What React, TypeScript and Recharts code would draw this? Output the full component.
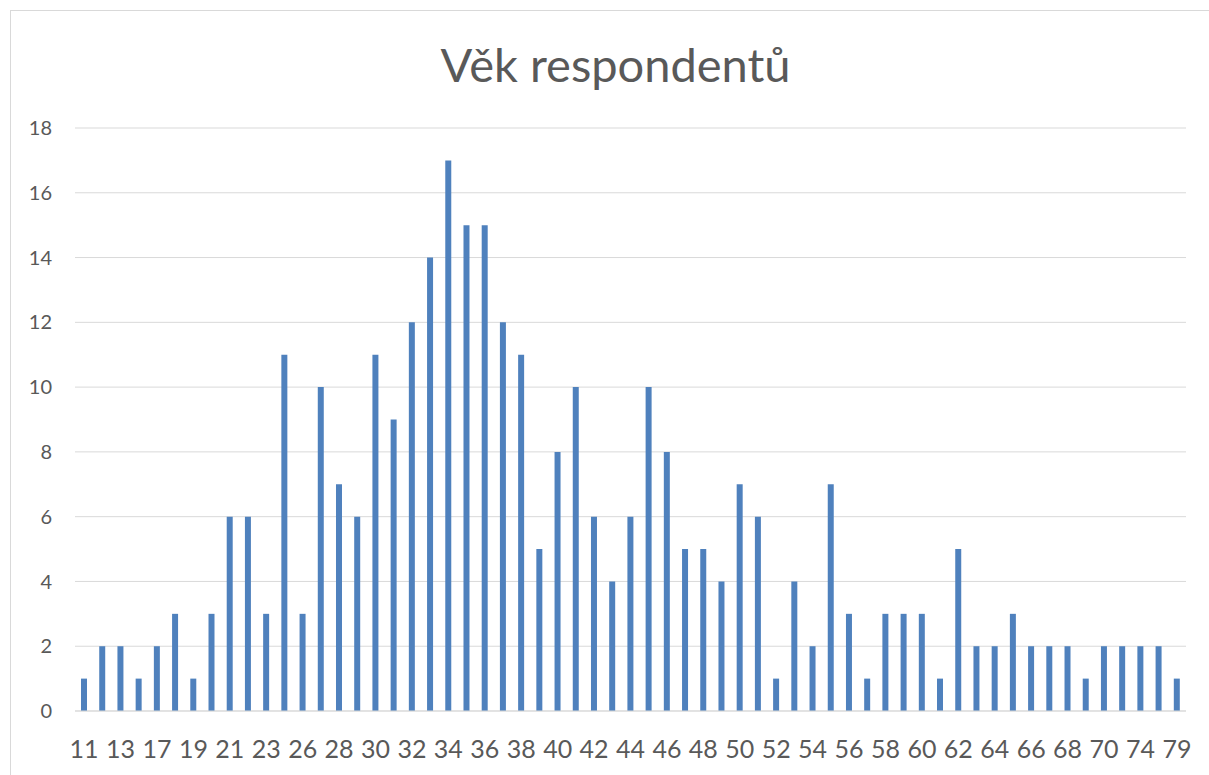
import React from 'react';
import { BarChart, Bar, XAxis, YAxis, CartesianGrid } from 'recharts';

const ages: number[] = [
  11, 12, 13, 15, 17, 18, 19, 20, 21, 22, 23, 24, 26, 27, 28, 29, 30, 31, 32, 33,
  34, 35, 36, 37, 38, 39, 40, 41, 42, 43, 44, 45, 46, 47, 48, 49, 50, 51, 52, 53,
  54, 55, 56, 57, 58, 59, 60, 61, 62, 63, 64, 65, 66, 67, 68, 69, 70, 72, 74, 76, 79,
];

const counts: number[] = [
  1, 2, 2, 1, 2, 3, 1, 3, 6, 6, 3, 11, 3, 10, 7, 6, 11, 9, 12, 14,
  17, 15, 15, 12, 11, 5, 8, 10, 6, 4, 6, 10, 8, 5, 5, 4, 7, 6, 1, 4,
  2, 7, 3, 1, 3, 3, 3, 1, 5, 2, 2, 3, 2, 2, 2, 1, 2, 2, 2, 2, 1,
];

const yTicks: number[] = [0, 2, 4, 6, 8, 10, 12, 14, 16, 18];

const title = 'Věk respondentů';

const data = ages.map((age, i) => ({ age: String(age), count: counts[i] }));

const FONT = 'Lato, "Open Sans", sans-serif';
const TEXT = '#595959';
const GRID = '#d9d9d9';

export default function App() {
  return (
    <div style={{ position: 'absolute', left: 0, top: 0, width: 1209, height: 775, overflow: 'hidden', background: '#fff' }}>
      <div
        style={{
          position: 'absolute',
          left: 10,
          top: 10,
          width: 1215,
          height: 800,
          border: `1px solid ${GRID}`,
          boxSizing: 'border-box',
        }}
      />
      <div
        style={{
          position: 'absolute',
          left: 10,
          top: 34,
          width: 1211,
          textAlign: 'center',
          fontFamily: FONT,
          fontWeight: 400,
          fontSize: 47,
          lineHeight: '60px',
          color: TEXT,
        }}
      >
        {title}
      </div>
      <div style={{ position: 'absolute', left: 0, top: 0 }}>
        <BarChart
          width={1209}
          height={775}
          data={data}
          margin={{ top: 128, right: 23, bottom: 0, left: 0 }}
          barCategoryGap="33%"
        >
          <CartesianGrid vertical={false} stroke={GRID} strokeWidth={1} />
          <XAxis
            dataKey="age"
            interval={1}
            height={64}
            axisLine={{ stroke: GRID, strokeWidth: 1 }}
            tickLine={false}
            tickMargin={23}
            tick={{ fill: TEXT, fontSize: 25, fontFamily: FONT }}
          />
          <YAxis
            width={75}
            domain={[0, 18]}
            ticks={yTicks}
            axisLine={false}
            tickLine={false}
            tickMargin={17}
            tick={{ fill: TEXT, fontSize: 20, fontFamily: FONT }}
          />
          <Bar dataKey="count" fill="#4f81bd" isAnimationActive={false} />
        </BarChart>
      </div>
    </div>
  );
}
